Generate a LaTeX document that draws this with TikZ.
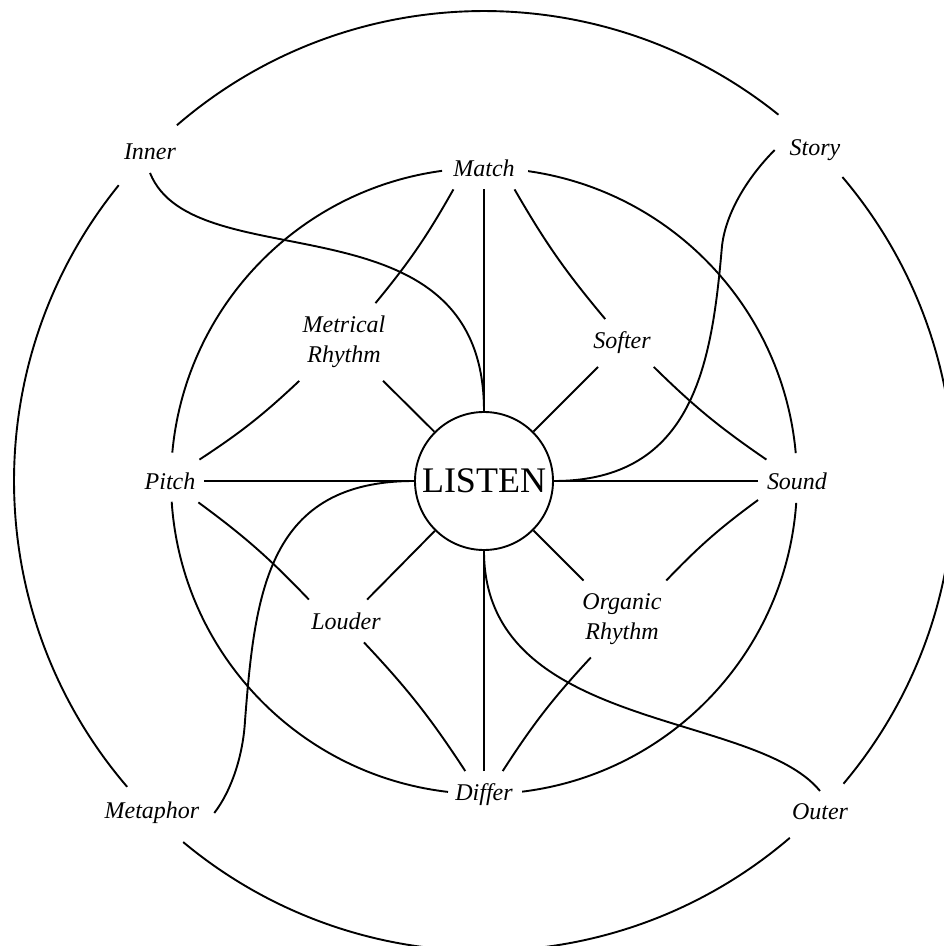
\documentclass[tikz,border=0pt]{standalone}
\usepackage{fontspec}
\setmainfont{Liberation Serif}
\tikzset{lbl/.style={font=\fontsize{24}{30}\selectfont\itshape,inner xsep=8pt,inner ysep=12pt,align=center}}
\tikzset{ringlbl/.style={lbl,inner xsep=14pt}}

\begin{document}
\begin{tikzpicture}[x=1pt,y=1pt,line width=1.9pt]
\useasboundingbox (-484,-465) rectangle (460,481);
\fill[white] (-484,-465) rectangle (460,481);
\clip (-484,-465) rectangle (460,481);
% the two rings, broken where the labels sit
\foreach \a/\b in {51.2/130.8,141/220.6,230.2/310.6,319.9/400.3}
  \draw (\a:470) arc[start angle=\a,end angle=\b,radius=470];
\foreach \a/\b in {5.1/81.9,97.7/174.8,183.8/263.4,277/356}
  \draw (\a:313) arc[start angle=\a,end angle=\b,radius=313];
%
\node (listen) [circle,draw=black,minimum size=138pt,inner sep=0pt,font=\fontsize{36}{38}\selectfont] at (0,0) {LISTEN};
\node (match) [lbl] at (0,313) {Match};
\node (differ) [lbl] at (0,-314) {Differ};
\node (pitch) [lbl] at (-314,0) {Pitch};
\node (sound) [lbl] at (313,0) {Sound};
\node (metrical) [lbl] at (-140,139) {Metrical\\Rhythm};
\node (softer) [lbl] at (138,138) {Softer};
\node (louder) [lbl] at (-138,-140) {Louder};
\node (organic) [lbl] at (138,-138) {Organic\\Rhythm};
\node (inner) [ringlbl] at (-334,329) {Inner};
\node (story) [ringlbl] at (331,331) {Story};
\node (metaphor) [ringlbl] at (-332,-332) {Metaphor};
\node (outer) [ringlbl] at (336,-331) {Outer};
\coordinate (storybend) at (238,235);
\coordinate (metaphorbend) at (-239,-240);
% spokes
\path (match) edge (listen)
      (differ) edge (listen)
      (pitch) edge (listen)
      (sound) edge (listen)
      (metrical) edge (listen)
      (softer) edge (listen)
      (louder) edge (listen)
      (organic) edge (listen);
% side links
\path (metrical.51) edge[bend right=5] (match.215)
      (metrical.221) edge[bend left=5] (pitch.36)
      (softer.125) edge[bend left=5] (match.325)
      (softer.323) edge[bend right=5] (sound.145)
      (louder.150) edge[bend right=5] (pitch.323)
      (louder.310) edge[bend left=5] (differ.128)
      (organic.41) edge[bend left=5] (sound.206)
      (organic.231) edge[bend right=5] (differ.52);
% sweeps out to the rim
\draw (inner.south) .. controls +(44,-109.5) and +(0,221) .. (listen.north);
\draw (story.west) .. controls +(-25,-25) and +(4,35) .. (storybend)
      .. controls +(-10,-115) and +(141,0) .. (listen.east);
\draw (metaphor.east) .. controls +(17,22) and +(-2,-35) .. (metaphorbend)
      .. controls +(10,130) and +(-146,0) .. (listen.west);
\draw (listen.south) .. controls +(0,-181) and +(-66,81) .. (outer.north);
\end{tikzpicture}
\end{document}
